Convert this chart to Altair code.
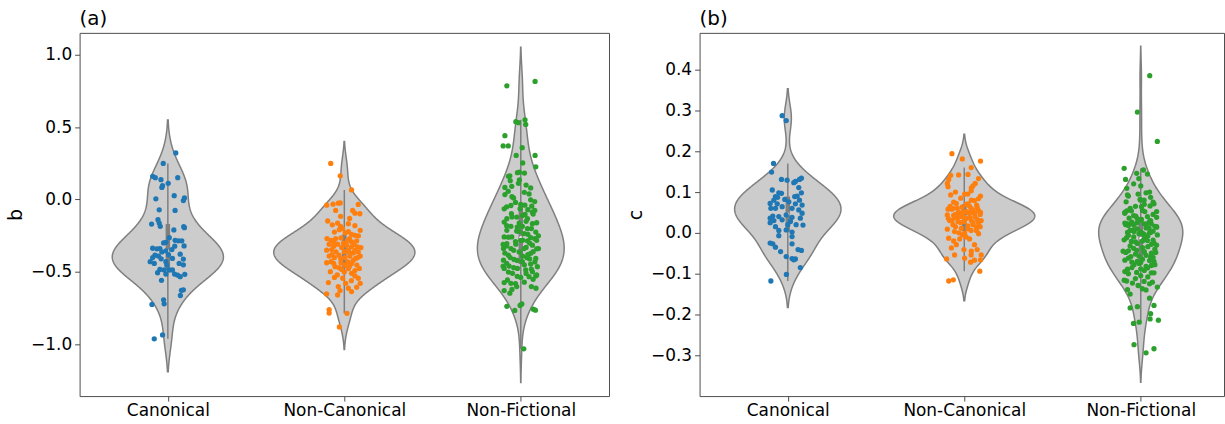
import altair as alt
import pandas as pd

GROUPS = ["Canonical", "Non-Canonical", "Non-Fictional"]
COLORS = ["#1f77b4", "#ff7f0e", "#2ca02c"]
FONT = "DejaVu Sans"

# (value, horizontal jitter) for every text, panel (a): parameter b
b_canonical = [
    (0.322, 0.045), (0.249, -0.026), (0.160, -0.086), (0.151, -0.071), (0.137, -0.039), (0.151, 0.056),
    (0.112, 0.002), (0.096, -0.030), (0.084, -0.034), (0.027, 0.036), (0.005, -0.068), (0.011, 0.094),
    (-0.007, 0.088), (-0.071, -0.049), (-0.075, 0.041), (-0.139, -0.056), (-0.162, -0.049), (-0.185, -0.043),
    (-0.169, -0.092), (-0.187, 0.090), (-0.194, 0.094), (-0.210, 0.034), (-0.263, 0.008), (-0.281, 0.041),
    (-0.285, 0.060), (-0.285, 0.079), (-0.299, -0.024), (-0.295, -0.011), (-0.320, 0.092), (-0.336, -0.086),
    (-0.340, -0.062), (-0.338, -0.045), (-0.322, 0.039), (-0.345, 0.023), (-0.361, -0.034), (-0.354, -0.011),
    (-0.384, -0.073), (-0.390, -0.053), (-0.400, -0.086), (-0.377, 0.070), (-0.381, 0.004), (-0.406, 0.026),
    (-0.409, -0.038), (-0.429, -0.100), (-0.441, -0.077), (-0.411, 0.088), (-0.429, -0.011), (-0.452, -0.006),
    (-0.441, 0.064), (-0.450, 0.088), (-0.482, -0.045), (-0.486, -0.021), (-0.486, 0.008), (-0.486, 0.026),
    (-0.514, 0.038), (-0.521, 0.055), (-0.532, 0.070), (-0.505, -0.058), (-0.514, -0.011), (-0.516, 0.096),
    (-0.557, -0.036), (-0.626, 0.077), (-0.623, 0.088), (-0.662, 0.071), (-0.724, -0.090), (-0.692, -0.024),
    (-0.719, -0.021), (-0.934, -0.030), (-0.961, -0.077),
]
b_noncanonical = [
    (0.249, -0.077), (0.164, -0.023), (0.066, 0.041), (-0.034, 0.079), (-0.039, -0.100), (-0.032, -0.064),
    (-0.025, -0.034), (-0.023, -0.023), (-0.075, 0.047), (-0.094, 0.060), (-0.098, 0.088), (-0.075, -0.049),
    (-0.116, -0.021), (-0.148, -0.094), (-0.167, 0.023), (-0.174, -0.068), (-0.162, -0.038), (-0.185, -0.021),
    (-0.212, 0.090), (-0.224, -0.056), (-0.208, -0.028), (-0.221, 0.023), (-0.240, 0.041), (-0.247, 0.060),
    (-0.269, -0.098), (-0.281, -0.075), (-0.269, -0.049), (-0.265, -0.019), (-0.281, 0.019), (-0.292, 0.041),
    (-0.285, 0.070), (-0.308, -0.086), (-0.322, -0.060), (-0.308, -0.038), (-0.315, 0.013), (-0.326, 0.041),
    (-0.326, 0.075), (-0.331, 0.094), (-0.349, -0.100), (-0.345, -0.071), (-0.361, -0.047), (-0.349, 0.023),
    (-0.368, 0.051), (-0.361, 0.079), (-0.390, -0.086), (-0.400, -0.056), (-0.384, -0.030), (-0.400, 0.004),
    (-0.390, 0.032), (-0.406, 0.064), (-0.390, 0.090), (-0.436, -0.100), (-0.429, -0.075), (-0.436, -0.019),
    (-0.452, 0.004), (-0.441, 0.041), (-0.452, 0.071), (-0.463, -0.053), (-0.482, -0.015), (-0.477, 0.023),
    (-0.475, 0.085), (-0.498, -0.079), (-0.509, 0.041), (-0.527, 0.060), (-0.537, -0.056), (-0.543, -0.009),
    (-0.543, 0.079), (-0.573, -0.090), (-0.578, 0.008), (-0.578, 0.090), (-0.600, -0.034), (-0.612, 0.023),
    (-0.605, 0.070), (-0.628, -0.024), (-0.635, 0.041), (-0.658, -0.038), (-0.651, -0.100),
    (-0.760, -0.086), (-0.783, -0.086), (-0.785, 0.015), (-0.879, -0.028),
    (-0.200, -0.010), (-0.230, 0.005), (-0.270, 0.030), (-0.300, -0.005), (-0.310, 0.055), (-0.330, -0.015),
    (-0.350, 0.060), (-0.360, 0.000), (-0.370, 0.030), (-0.380, -0.070), (-0.400, 0.075), (-0.410, -0.020),
    (-0.420, 0.050), (-0.430, 0.020), (-0.440, -0.060), (-0.460, 0.030), (-0.470, -0.030), (-0.490, 0.060),
    (-0.500, 0.000), (-0.520, -0.040), (-0.290, -0.060), (-0.250, 0.080), (-0.180, 0.060), (-0.130, 0.030),
    (-0.560, 0.040),
]
b_nonfictional = [
    (0.785, -0.079), (0.815, 0.081), (0.537, -0.028), (0.530, -0.013), (0.550, 0.024), (0.518, 0.028),
    (0.441, -0.090), (0.370, -0.100), (0.370, -0.071), (0.358, 0.008), (0.304, -0.026), (0.304, 0.081),
    (0.226, 0.085), (0.253, 0.011), (0.185, -0.019), (0.189, -0.008), (0.183, 0.021), (0.164, -0.062),
    (0.160, -0.070), (0.135, -0.008), (0.112, -0.013), (0.091, -0.051), (0.084, -0.090), (0.080, 0.056),
    (0.057, -0.071), (0.039, 0.047), (0.034, -0.090), (0.011, -0.041), (-0.002, 0.056), (-0.014, 0.079),
    (-0.034, 0.000), (-0.039, 0.023), (-0.041, -0.056), (-0.046, 0.062), (-0.075, 0.079), (-0.064, -0.094),
    (-0.064, -0.004), (-0.087, 0.066), (-0.098, -0.053), (-0.103, 0.024), (-0.121, -0.023), (-0.132, -0.079),
    (-0.132, 0.038), (-0.155, -0.094), (-0.162, -0.009), (-0.167, 0.066), (-0.185, 0.009), (-0.185, -0.056),
    (-0.212, -0.079), (-0.201, 0.038), (-0.217, -0.023), (-0.224, 0.085), (-0.235, 0.019), (-0.258, -0.094),
    (-0.258, -0.051), (-0.263, 0.056), (-0.281, 0.000), (-0.285, 0.038), (-0.281, 0.090), (-0.304, -0.079),
    (-0.308, -0.028), (-0.315, 0.066), (-0.338, -0.098), (-0.338, -0.056), (-0.338, 0.019), (-0.338, 0.100),
    (-0.361, -0.009), (-0.372, 0.056), (-0.384, -0.070), (-0.400, 0.034), (-0.406, 0.085), (-0.413, -0.038),
    (-0.418, -0.098), (-0.429, 0.009), (-0.445, 0.056), (-0.459, -0.066), (-0.463, 0.094), (-0.475, -0.019),
    (-0.486, 0.028), (-0.475, -0.094), (-0.498, 0.066), (-0.509, -0.047), (-0.527, 0.085), (-0.532, 0.047),
    (-0.555, -0.075), (-0.537, 0.000), (-0.600, -0.023), (-0.573, -0.094), (-0.578, -0.056), (-0.612, 0.086),
    (-0.628, -0.094), (-0.646, -0.062), (-0.737, -0.079), (-0.765, -0.034), (-0.731, -0.004), (-0.720, 0.006),
    (-0.756, 0.071), (-0.763, 0.083), (-1.030, 0.017),
    (-0.020, -0.030), (0.050, 0.020), (-0.100, 0.070), (-0.120, -0.050), (-0.150, 0.030), (-0.180, -0.080),
    (-0.200, 0.060), (-0.220, -0.010), (-0.240, 0.040), (-0.260, -0.070), (-0.270, 0.080), (-0.290, -0.030),
    (-0.300, 0.050), (-0.320, -0.080), (-0.330, 0.030), (-0.350, -0.040), (-0.360, 0.070), (-0.370, -0.090),
    (-0.390, 0.010), (-0.400, -0.060), (-0.410, 0.050), (-0.420, -0.020), (-0.430, 0.080), (-0.440, -0.080),
    (-0.450, 0.020), (-0.470, -0.040), (-0.480, 0.060), (-0.500, -0.070), (-0.510, 0.030), (-0.530, -0.020),
    (-0.550, 0.070), (-0.570, 0.020), (-0.600, 0.060), (-0.620, -0.050), (-0.070, 0.040), (-0.050, -0.080),
    (0.020, -0.050), (0.100, 0.030), (0.130, -0.060), (-0.160, 0.090), (-0.340, 0.090), (-0.380, 0.040),
    (-0.460, -0.100), (-0.280, 0.010), (-0.190, -0.020), (-0.110, 0.010), (-0.250, 0.100), (-0.310, -0.100),
    (-0.520, 0.090), (-0.580, -0.030),
]

# panel (b): parameter c
c_canonical = [
    (0.287, -0.032), (0.275, -0.009), (0.170, -0.081), (0.149, -0.092), (0.131, -0.036), (0.129, -0.004),
    (0.123, 0.034), (0.126, 0.043), (0.131, 0.066), (0.134, 0.077), (0.105, -0.088), (0.098, -0.051),
    (0.097, -0.036), (0.111, 0.062), (0.098, 0.077), (0.089, -0.070), (0.087, -0.058), (0.089, 0.039),
    (0.090, 0.053), (0.080, -0.079), (0.082, -0.017), (0.080, 0.066), (0.072, -0.100), (0.071, -0.060),
    (0.076, 0.006), (0.071, 0.043), (0.068, 0.081), (0.060, -0.096), (0.060, -0.070), (0.064, -0.032),
    (0.060, 0.024), (0.056, 0.062), (0.048, 0.081), (0.041, -0.085), (0.036, -0.100), (0.040, -0.051),
    (0.044, -0.009), (0.038, 0.024), (0.036, 0.071), (0.030, -0.079), (0.032, -0.032), (0.028, 0.015),
    (0.025, -0.100), (0.015, -0.070), (0.020, 0.000), (0.020, 0.047), (0.019, 0.086), (0.006, -0.051),
    (0.007, -0.009), (0.002, 0.024), (-0.007, -0.051), (-0.025, -0.100), (-0.027, -0.085), (-0.035, -0.070),
    (-0.046, -0.041), (-0.009, 0.024), (-0.027, 0.024), (-0.058, -0.009), (-0.063, 0.024), (-0.064, 0.043),
    (-0.066, 0.034), (-0.041, 0.058), (-0.043, 0.077), (-0.085, 0.071), (-0.102, -0.008), (-0.118, -0.096),
]
c_noncanonical = [
    (0.194, -0.070), (0.181, -0.011), (0.176, 0.092), (0.160, 0.039), (0.141, -0.077), (0.131, -0.088),
    (0.142, -0.032), (0.143, 0.021), (0.133, 0.081), (0.121, -0.096), (0.113, -0.092), (0.121, 0.062),
    (0.115, 0.049), (0.103, 0.039), (0.093, -0.077), (0.095, 0.002), (0.090, 0.092), (0.084, 0.081),
    (0.079, 0.058), (0.072, -0.045), (0.071, 0.021), (0.058, -0.092), (0.060, -0.064), (0.063, -0.013),
    (0.060, 0.039), (0.063, 0.073), (0.050, -0.032), (0.052, 0.011), (0.048, 0.058), (0.050, 0.092),
    (0.044, -0.096), (0.038, -0.055), (0.040, -0.008), (0.038, 0.030), (0.033, 0.073), (0.030, -0.083),
    (0.028, -0.036), (0.025, 0.049), (0.030, 0.096), (0.020, -0.064), (0.017, 0.021), (0.014, 0.068),
    (0.011, -0.017), (0.009, -0.096), (0.006, 0.039), (0.003, -0.055), (-0.001, 0.002), (-0.002, 0.081),
    (-0.013, -0.088), (-0.015, -0.026), (-0.015, 0.030), (-0.029, -0.045), (-0.029, 0.058), (-0.037, -0.073),
    (-0.041, -0.002), (-0.041, 0.073), (-0.054, -0.055), (-0.054, 0.039), (-0.054, 0.096), (-0.062, 0.002),
    (-0.064, -0.100), (-0.067, 0.058), (-0.072, 0.036), (-0.066, 0.092), (-0.094, 0.088), (-0.118, -0.088),
    (-0.115, -0.062),
    (0.035, 0.010), (0.045, -0.050), (0.055, 0.080), (0.025, -0.020), (0.065, 0.030), (0.040, 0.060),
    (0.030, -0.070), (0.050, -0.010), (0.060, -0.040), (0.020, 0.050), (0.070, 0.010), (0.015, -0.050),
    (0.045, 0.090), (0.035, -0.090), (0.075, -0.060), (0.080, 0.040), (0.010, 0.020), (0.000, -0.030),
    (0.055, 0.050), (0.040, -0.020), (0.030, 0.040), (0.065, -0.080), (0.085, -0.020), (0.025, 0.080),
    (0.050, 0.020), (0.005, 0.070), (-0.010, 0.010), (-0.020, -0.060), (0.095, 0.020), (0.100, -0.050),
    (0.110, 0.040), (0.038, -0.040), (0.048, 0.030), (0.058, -0.070), (0.028, 0.000), (0.068, 0.070),
    (-0.005, -0.010), (-0.045, 0.040), (0.015, 0.090), (0.043, -0.060),
]
c_nonfictional = [
    (0.385, 0.051), (0.296, -0.019), (0.224, 0.094), (0.158, -0.094), (0.131, -0.086), (0.146, -0.023),
    (0.154, 0.015), (0.144, 0.038), (0.133, -0.011), (0.109, -0.079), (0.115, 0.000), (0.093, -0.075),
    (0.095, -0.015), (0.098, 0.030), (0.087, 0.056), (0.082, -0.004), (0.080, 0.019), (0.076, -0.083),
    (0.071, 0.075), (0.066, 0.053), (0.064, 0.004), (0.054, -0.079), (0.050, -0.090), (0.054, -0.053),
    (0.052, 0.090), (0.052, 0.023), (0.041, -0.028), (0.040, 0.038), (0.036, -0.066), (0.033, 0.004),
    (0.030, 0.056), (0.024, -0.090), (0.022, -0.075), (0.020, -0.038), (0.022, 0.019), (0.015, 0.090),
    (0.011, 0.047), (0.020, -0.085), (0.022, -0.056), (0.025, -0.019), (0.022, 0.034), (0.014, 0.090),
    (0.001, -0.075), (0.003, -0.038), (-0.001, 0.009), (0.001, 0.056), (-0.005, 0.094), (-0.017, -0.094),
    (-0.021, -0.053), (-0.019, 0.038), (-0.025, 0.075), (-0.048, -0.085), (-0.043, -0.023), (-0.046, 0.019),
    (-0.048, 0.085), (-0.058, -0.056), (-0.059, 0.056), (-0.067, -0.090), (-0.072, 0.000), (-0.070, 0.075),
    (-0.078, -0.038), (-0.089, -0.075), (-0.086, 0.038), (-0.097, -0.023), (-0.098, 0.075), (-0.105, 0.000),
    (-0.116, -0.094), (-0.123, -0.047), (-0.119, 0.019), (-0.121, 0.066), (-0.129, -0.015), (-0.133, 0.094),
    (-0.139, -0.075), (-0.137, 0.009), (-0.184, -0.060), (-0.181, -0.019), (-0.178, 0.075), (-0.198, 0.056),
    (-0.211, 0.053), (-0.214, 0.100), (-0.222, -0.041), (-0.219, -0.009), (-0.274, -0.038), (-0.284, 0.075),
    (-0.294, 0.030),
    (0.060, -0.060), (0.045, 0.070), (0.035, -0.020), (0.028, 0.050), (0.018, -0.070), (0.012, 0.030),
    (0.008, -0.040), (0.004, 0.070), (-0.002, -0.010), (-0.008, 0.040), (-0.012, -0.080), (-0.015, 0.020),
    (-0.022, -0.030), (-0.028, 0.060), (-0.032, -0.060), (-0.036, 0.010), (-0.040, 0.080), (-0.052, -0.030),
    (-0.055, 0.030), (-0.062, -0.070), (-0.068, 0.050), (-0.075, -0.010), (-0.080, 0.060), (-0.085, -0.050),
    (-0.092, 0.020), (-0.100, -0.070), (-0.108, 0.040), (-0.112, -0.030), (-0.125, 0.050), (0.070, 0.020),
    (0.065, -0.030), (0.048, -0.090), (0.038, 0.090), (0.026, -0.050), (0.016, 0.080), (0.006, -0.060),
    (-0.004, 0.020), (-0.010, -0.040), (-0.018, 0.070), (-0.026, -0.020), (-0.034, 0.040), (-0.044, -0.070),
    (-0.050, 0.060), (-0.057, -0.010), (-0.065, 0.010), (-0.072, -0.050), (-0.078, 0.080), (-0.088, 0.000),
    (-0.095, -0.090), (-0.140, 0.030), (-0.150, -0.060), (-0.160, 0.050), (0.100, 0.050), (0.120, -0.040),
    (0.080, 0.000), (0.055, 0.010), (0.042, -0.040), (0.032, 0.000), (0.022, 0.060), (0.010, -0.020),
    (0.000, 0.050), (-0.006, -0.070), (-0.020, 0.010), (-0.030, 0.090), (-0.038, -0.040), (-0.047, 0.020),
    (-0.060, 0.070), (-0.070, -0.020), (-0.082, 0.030), (-0.098, 0.060), (-0.118, -0.080), (0.090, -0.070),
    (0.075, 0.070), (0.002, 0.000), (-0.045, -0.100),
]

B_TICKS = [-1.0, -0.5, 0.0, 0.5, 1.0]
C_TICKS = [-0.3, -0.2, -0.1, 0.0, 0.1, 0.2, 0.3, 0.4]

LABEL_EXPR = " : ".join(
    f"datum.value == {i} ? '{g}'" for i, g in enumerate(GROUPS[:-1])
) + f" : '{GROUPS[-1]}'"

VIOLIN_FILL = "#cccccc"
GRAY = "#7f7f7f"
FRAME = "#4d4d4d"


def to_frame(groups):
    rows = []
    for i, (name, pairs) in enumerate(zip(GROUPS, groups)):
        for v, j in pairs:
            rows.append({"grp": name, "idx": i, "val": v, "jit": j})
    return pd.DataFrame(rows)


def panel(df, label, ytitle, ydom, yticks, width, xmax):
    xscale = alt.Scale(domain=[-0.5, xmax], nice=False, zero=False)
    yscale = alt.Scale(domain=ydom, nice=False, zero=False)
    xaxis = alt.Axis(values=[0, 1, 2], labelExpr=LABEL_EXPR, title=None, grid=False, domain=False,
                     labelFlush=False, labelOverlap=False, tickSize=5, labelPadding=2)
    yaxis = alt.Axis(values=yticks, format=".1f", title=ytitle, grid=False, domain=False,
                     tickSize=5, labelPadding=3, titlePadding=5)

    def X(field):
        return alt.X(field, type="quantitative", scale=xscale, axis=xaxis)

    def Y(field):
        return alt.Y(field, type="quantitative", scale=yscale, axis=yaxis)

    base = alt.Chart(df)

    # kernel density per group (Scott bandwidth, cut at 2 bandwidths), widths share one scale
    violin = base.transform_joinaggregate(
        mu="mean(val)", sd="stdev(val)", n="count()", vmin="min(val)", vmax="max(val)", groupby=["grp"]
    ).transform_calculate(
        bw="datum.sd * pow(datum.n, -0.2)"
    ).transform_calculate(
        z="(datum.val - datum.mu) / datum.bw",
        zlo="(datum.vmin - datum.mu) / datum.bw - 2",
        zhi="(datum.vmax - datum.mu) / datum.bw + 2",
    ).transform_density(
        "z", groupby=["grp", "idx", "mu", "bw", "zlo", "zhi"], bandwidth=1,
        extent=[-30, 30], steps=1201, as_=["zz", "dz"]
    ).transform_filter(
        "datum.zz >= datum.zlo && datum.zz <= datum.zhi"
    ).transform_calculate(
        v="datum.mu + datum.zz * datum.bw", d="datum.dz / datum.bw"
    ).transform_joinaggregate(
        dmax="max(d)"
    ).transform_calculate(
        xl="datum.idx - 0.4 * datum.d / datum.dmax",
        xr="datum.idx + 0.4 * datum.d / datum.dmax",
    ).mark_area(
        orient="horizontal", fill=VIOLIN_FILL, stroke=GRAY, strokeWidth=1.5, opacity=1
    ).encode(
        y=Y("v"), x=X("xl"), x2="xr:Q", detail="grp:N"
    )

    # inner box: whiskers to the furthest values inside 1.5 IQR, thick IQR bar, median dot
    stats = base.transform_joinaggregate(
        q1="q1(val)", q3="q3(val)", med="median(val)", groupby=["grp"]
    ).transform_calculate(
        lo="datum.q1 - 1.5 * (datum.q3 - datum.q1)", hi="datum.q3 + 1.5 * (datum.q3 - datum.q1)"
    ).transform_filter(
        "datum.val >= datum.lo && datum.val <= datum.hi"
    ).transform_aggregate(
        wlo="min(val)", whi="max(val)", q1="min(q1)", q3="min(q3)", med="min(med)", groupby=["grp", "idx"]
    )
    whisker = stats.mark_rule(color=GRAY, strokeWidth=1.5).encode(x=X("idx"), y=Y("wlo"), y2="whi:Q")
    iqr = stats.mark_rule(color=GRAY, strokeWidth=4.5).encode(x=X("idx"), y=Y("q1"), y2="q3:Q")
    median = stats.mark_point(filled=True, fill="white", stroke=GRAY, strokeWidth=0.7, size=14,
                              opacity=1).encode(x=X("idx"), y=Y("med"))

    points = base.transform_calculate(xp="datum.idx + datum.jit").mark_circle(
        size=28, opacity=1
    ).encode(
        x=X("xp"), y=Y("val"),
        color=alt.Color("grp:N", scale=alt.Scale(domain=GROUPS, range=COLORS), legend=None),
    )

    return alt.layer(violin, whisker, iqr, median, points).properties(
        width=width, height=365,
        title=alt.TitleParams(label, anchor="start", frame="group", fontSize=20, font=FONT,
                              fontWeight="normal", offset=4, color="black"),
    )


df_b = to_frame([b_canonical, b_noncanonical, b_nonfictional])
df_c = to_frame([c_canonical, c_noncanonical, c_nonfictional])

left = panel(df_b, "(a)", "b", [-1.356, 1.15], B_TICKS, 532, 2.5)
right = panel(df_c, "(b)", "c", [-0.40, 0.49], C_TICKS, 527, -0.5 + 527 / 177.33)

chart = alt.hconcat(left, right, spacing=16).properties(
    padding={"left": 6, "top": 7, "right": 0, "bottom": 0}
).configure(
    font=FONT
).configure_view(
    stroke=FRAME, strokeWidth=1
).configure_axis(
    labelFont=FONT, titleFont=FONT, labelFontSize=17, titleFontSize=19, titleFontWeight="normal",
    labelColor="black", titleColor="black", tickColor=FRAME, tickWidth=1
)

chart.save("out.html", embed_options={"renderer": "svg", "actions": False})
